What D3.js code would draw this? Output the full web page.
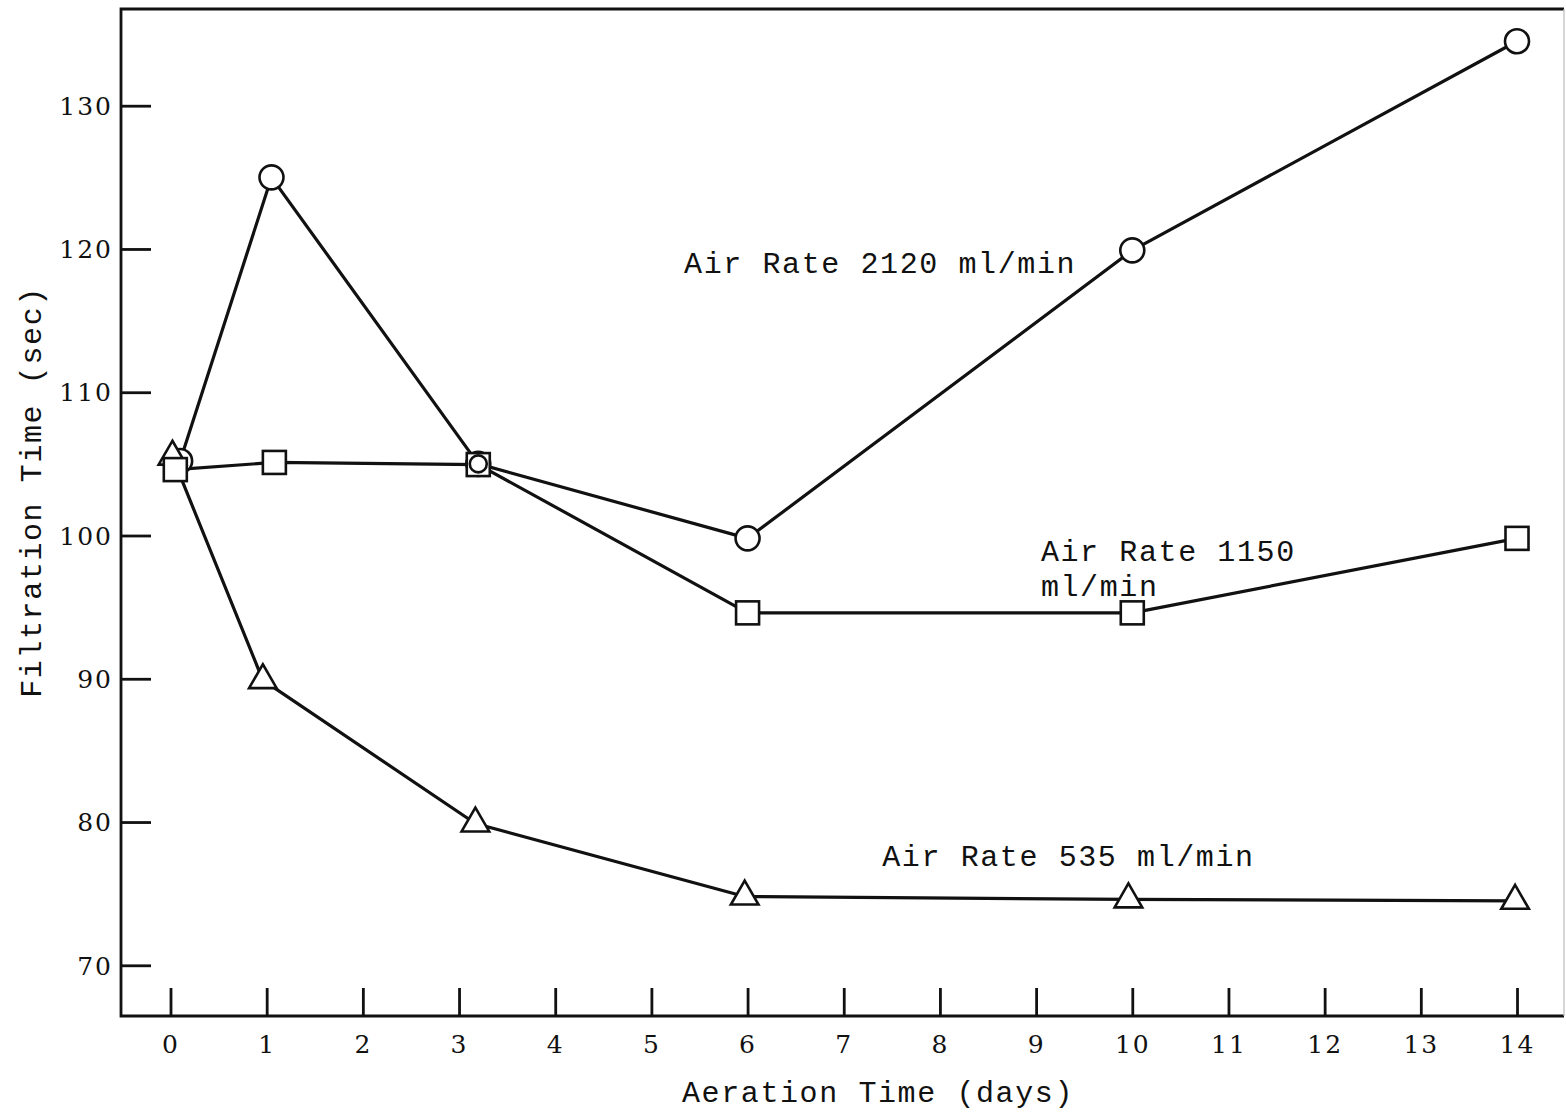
<!DOCTYPE html>
<html>
<head>
<meta charset="utf-8">
<script src="https://cdn.jsdelivr.net/npm/d3@7"></script>
<style>
  html, body { margin: 0; padding: 0; background: #fff; }
  svg { display: block; }
  .tick-label { font-family: "DejaVu Serif", serif; font-size: 25px; letter-spacing: 2px; fill: #111; }
  .mono { font-family: "Liberation Mono", "Courier New", monospace; font-size: 30px; letter-spacing: 1.6px; fill: #111; }
</style>
</head>
<body>
<script>
// ---- Data ----
const xTicks = [0,1,2,3,4,5,6,7,8,9,10,11,12,13,14];
const yTicks = [70,80,90,100,110,120,130];

const rate2120Days  = [0.1, 1.05, 3.2, 6, 10, 14];
const rate2120Times = [105.2, 125, 105.0, 99.8, 119.9, 134.5];

const rate1150Days  = [0.05, 1.08, 3.2, 6, 10, 14];
const rate1150Times = [104.6, 105.1, 104.95, 94.6, 94.6, 99.8];

const rate535Days   = [0.02, 0.96, 3.17, 5.97, 9.96, 13.98];
const rate535Times  = [105.5, 89.9, 79.9, 74.8, 74.6, 74.5];

const seriesLabels = [
  { lines: ["Air Rate 2120 ml/min"], day: 5.34, time: 118.3 },
  { lines: ["Air Rate 1150", "ml/min"], day: 9.05, time: 98.25 },
  { lines: ["Air Rate 535 ml/min"], day: 7.4, time: 76.9 }
];
const xTitle = "Aeration Time (days)";
const yTitle = "Filtration Time (sec)";

// ---- Layout ----
const W = 1566, H = 1112;
const frame = { left: 121, top: 9, right: 1564, bottom: 1016 };

const svg = d3.select("body").append("svg").attr("width", W).attr("height", H);

const x = d3.scaleLinear().domain([0, 14]).range([170.5, 1517]);
const y = d3.scaleLinear().domain([70, 130]).range([965.3, 105.7]);

// frame
svg.append("path")
  .attr("d", `M${frame.right},${frame.top} L${frame.left},${frame.top} L${frame.left},${frame.bottom} L${frame.right},${frame.bottom}`)
  .attr("fill", "none").attr("stroke", "#111").attr("stroke-width", 2.8);
svg.append("line")
  .attr("x1", frame.right).attr("x2", frame.right).attr("y1", frame.top).attr("y2", frame.bottom)
  .attr("stroke", "#bbb").attr("stroke-width", 1.2);

// Y axis (ticks inward)
const yAxis = d3.axisRight(y).tickValues(yTicks).tickSize(30).tickFormat(d3.format("d"));
const gy = svg.append("g").attr("transform", `translate(${frame.left},0)`).call(yAxis);
gy.select(".domain").remove();
gy.selectAll(".tick line").attr("stroke", "#111").attr("stroke-width", 2.8);
gy.selectAll(".tick text")
  .attr("class", "tick-label")
  .attr("x", -8).attr("dy", "0.35em")
  .attr("text-anchor", "end")
  .attr("font-family", null).attr("font-size", null).attr("fill", null);

// X axis (ticks upward)
const xAxis = d3.axisTop(x).tickValues(xTicks).tickSize(28).tickFormat(d3.format("d"));
const gx = svg.append("g").attr("transform", `translate(0,${frame.bottom})`).call(xAxis);
gx.select(".domain").remove();
gx.selectAll(".tick line").attr("stroke", "#111").attr("stroke-width", 2.8);
gx.selectAll(".tick text")
  .attr("class", "tick-label")
  .attr("y", 37).attr("dy", "0")
  .attr("text-anchor", "middle")
  .attr("font-family", null).attr("font-size", null).attr("fill", null);

// Axis titles
svg.append("text").attr("class", "mono")
  .attr("x", 878).attr("y", 1102).attr("text-anchor", "middle").text(xTitle);
svg.append("text").attr("class", "mono")
  .attr("transform", "translate(41,492) rotate(-90)").attr("text-anchor", "middle").text(yTitle);

// Series
const mk = (days, times) => days.map((d, i) => ({ day: d, time: times[i] }));
const circles = mk(rate2120Days, rate2120Times);
const squares = mk(rate1150Days, rate1150Times);
const triangles = mk(rate535Days, rate535Times);

const line = d3.line().x(d => x(d.day)).y(d => y(d.time));
[circles, squares, triangles].forEach(s => {
  svg.append("path").datum(s).attr("d", line)
    .attr("fill", "none").attr("stroke", "#111").attr("stroke-width", 3.2)
    .attr("stroke-linejoin", "round");
});

const markerStyle = sel => sel.attr("fill", "#fff").attr("stroke", "#111").attr("stroke-width", 2.6);

// circles (bottom)
markerStyle(svg.append("g").selectAll("circle").data(circles).join("circle")
  .attr("cx", d => x(d.day)).attr("cy", d => y(d.time)).attr("r", 12));

// triangles
const tri = d3.symbol().type(d3.symbolTriangle).size(330);
markerStyle(svg.append("g").selectAll("path").data(triangles).join("path")
  .attr("d", tri).attr("transform", d => `translate(${x(d.day)},${y(d.time)})`));

// squares
const sq = 23;
markerStyle(svg.append("g").selectAll("rect").data(squares).join("rect")
  .attr("x", d => x(d.day) - sq / 2).attr("y", d => y(d.time) - sq / 2)
  .attr("width", sq).attr("height", sq));

// circles that sit on top of a square, drawn inside it
const nested = circles.filter(c => squares.some(s =>
  Math.abs(x(s.day) - x(c.day)) < 4 && Math.abs(y(s.time) - y(c.time)) < 4));
markerStyle(svg.append("g").selectAll("circle").data(nested).join("circle")
  .attr("cx", d => x(d.day)).attr("cy", d => y(d.time)).attr("r", 8.5));

// Series labels
seriesLabels.forEach(l => {
  const t = svg.append("text").attr("class", "mono")
    .attr("x", x(l.day)).attr("y", y(l.time));
  l.lines.forEach((s, i) => {
    t.append("tspan").attr("x", x(l.day)).attr("dy", i === 0 ? 0 : 35).text(s);
  });
});
</script>
</body>
</html>
